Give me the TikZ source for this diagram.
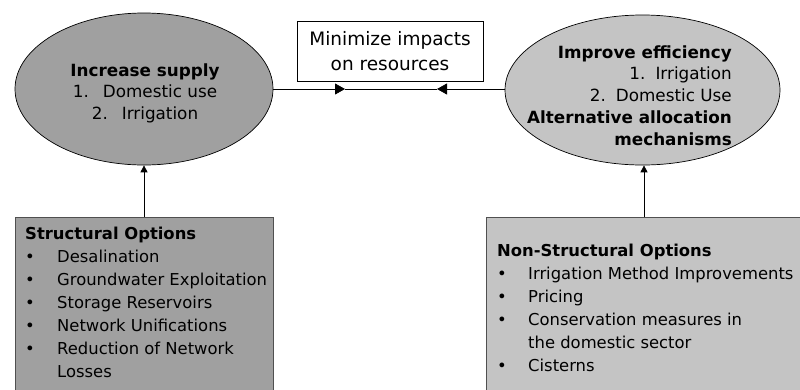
\documentclass[tikz,border=0pt]{standalone}
\usepackage{fontspec}
\setmainfont{DejaVu Sans}
\usetikzlibrary{shapes.geometric,arrows.meta}
\definecolor{darkfill}{HTML}{A0A0A0}
\definecolor{lightfill}{HTML}{C4C4C4}
\definecolor{edgegray}{HTML}{505050}
\newcommand{\bul}[1]{\makebox[#1][l]{\textbullet}}
\begin{document}
\begin{tikzpicture}[x=1pt,y=-1pt,
  oval/.style={ellipse,draw=black,line width=0.7pt,inner sep=0pt},
  optbox/.style={rectangle,draw=edgegray,line width=0.8pt,anchor=north west,inner sep=0pt},
  txt/.style={inner sep=0pt,font=\fontsize{16.8}{21.8}\selectfont},
  boxtxt/.style={inner sep=0pt,font=\fontsize{16.4}{23}\selectfont},
  conn/.style={line width=0.8pt,draw=black},
  tip/.style={-{Triangle[length=7pt,width=7pt]}},
  bigtip/.style={-{Triangle[length=10pt,width=11pt]}}
]
\useasboundingbox (0,0) rectangle (800,389);
\clip (0,0) rectangle (800,389);
% ellipses
\node[oval,fill=darkfill,minimum width=258pt,minimum height=152pt] (L) at (144,89) {};
\node[oval,fill=lightfill,minimum width=275pt,minimum height=150pt] (R) at (642.5,90) {};
% centre box
\node[rectangle,draw=black,line width=0.7pt,minimum width=186pt,minimum height=60pt,inner sep=0pt,
      align=center,font=\fontsize{18.5}{25}\selectfont] (M) at (390,51) {Minimize impacts\\on resources};
% option boxes
\node[optbox,fill=darkfill,minimum width=258pt,minimum height=200pt] (SB) at (15,217) {};
\node[optbox,fill=lightfill,minimum width=330pt,minimum height=200pt] (NB) at (486,217) {};
% ellipse texts
\node[txt,anchor=base] (Ltxt) at (145,76) {\begin{tabular}[t]{@{}c@{}}
  \textbf{Increase supply}\\
  1.\hspace{14pt}Domestic use\\
  2.\hspace{14pt}Irrigation
\end{tabular}};
\node[txt,anchor=base east] (Rtxt) at (732,58) {\begin{tabular}[t]{@{}r@{}}
  \textbf{Improve efficiency}\\
  1.\hspace{10pt}Irrigation\\
  2.\hspace{10pt}Domestic Use\\
  \textbf{Alternative allocation}\hspace{7pt}\\
  \textbf{mechanisms}
\end{tabular}};
% box texts
\node[boxtxt,anchor=base west] (Stxt) at (25,239) {\begin{tabular}[t]{@{}l@{}}
  \textbf{Structural Options}\\
  \bul{32pt}Desalination\\
  \bul{32pt}Groundwater Exploitation\\
  \bul{32pt}Storage Reservoirs\\
  \bul{32pt}Network Unifications\\
  \bul{32pt}Reduction of Network\\
  \hspace{32pt}Losses
\end{tabular}};
\node[boxtxt,anchor=base west] (Ntxt) at (497,256) {\begin{tabular}[t]{@{}l@{}}
  \textbf{Non-Structural Options}\\
  \bul{31pt}Irrigation Method Improvements\\
  \bul{31pt}Pricing\\
  \bul{31pt}Conservation measures in\\
  \hspace{31pt}the domestic sector\\
  \bul{31pt}Cisterns
\end{tabular}};
% connectors
\coordinate (pL) at (345,89);
\coordinate (pR) at (437,89);
\draw[conn] (pL) -- (pR);
\draw[conn,bigtip] (L.east) -- (pL);
\draw[conn,bigtip] (R.west |- pR) -- (pR);
\draw[conn,tip] (SB.north -| L.south) -- (L.south);
\draw[conn,tip] (644,217) -- (R.south -| 644,0);
\end{tikzpicture}
\end{document}
